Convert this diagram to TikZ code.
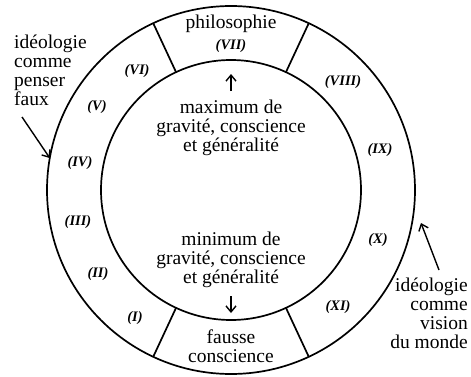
\documentclass[tikz,border=0pt]{standalone}
\usepackage{fontspec}
\setmainfont{Liberation Serif}
\usetikzlibrary{arrows.meta}
\begin{document}
\begin{tikzpicture}[x=1pt,y=1pt,
  ring/.style={draw, circle, line width=1.7pt, inner sep=0pt, outer sep=0pt},
  sepline/.style={line width=1.7pt},
  txt/.style={font=\fontsize{19.5}{19}\selectfont, align=center, inner sep=0pt},
  num/.style={font=\fontsize{14.5}{16}\selectfont\bfseries\itshape, inner sep=0pt},
  arr/.style={line width=1.4pt, -{Straight Barb[length=6pt,width=10pt]}}]
\useasboundingbox (0,0) rectangle (471,376);
\coordinate (c) at (231,186);
\node[ring, minimum size=368pt] (outer) at (c) {};
\node[ring, minimum size=260pt] (inner) at (c) {};
\foreach \a in {65,115,245,295}
  \draw[sepline] (inner.\a) -- (outer.\a);
% top and bottom sectors
\node[txt, anchor=north] (philo) at (231,361) {philosophie};
\node[num] (n7) at (231,330) {(VII)};
\node[txt, anchor=north] (fausse) at (231,46) {fausse\\conscience};
% centre texts
\node[txt, anchor=north] (maxi) at (231,276) {maximum de\\gravité, conscience\\et généralité};
\node[txt, anchor=north] (mini) at (231,144) {minimum de\\gravité, conscience\\et généralité};
\coordinate (upA) at (231,285);
\coordinate (upB) at (231,302);
\draw[arr] (upA) -- (upB);
\coordinate (dnA) at (231,80);
\coordinate (dnB) at (231,63);
\draw[arr] (dnA) -- (dnB);
% numerals
\node[num] (n6) at (137,305) {(VI)};
\node[num] (n5) at (97,269) {(V)};
\node[num] (n4) at (80,213) {(IV)};
\node[num] (n3) at (78,154) {(III)};
\node[num] (n2) at (98,102) {(II)};
\node[num] (n1) at (135,58) {(I)};
\node[num] (n8) at (343,294) {(VIII)};
\node[num] (n9) at (380,226) {(IX)};
\node[num] (n10) at (378,136) {(X)};
\node[num] (n11) at (338,69) {(XI)};
% side labels
\node[txt, align=left, anchor=north west] (left) at (14,341) {idéologie\\comme\\penser\\faux};
\node[txt, align=right, anchor=north east] (right) at (468,98) {idéologie\\comme\\vision\\du monde};
\coordinate (lt) at (22,259);
\draw[arr] (lt) -- (outer.170);
\coordinate (rt) at (439,106);
\coordinate (rh) at (421,153);
\draw[arr] (rt) -- (rh);
\end{tikzpicture}
\end{document}
